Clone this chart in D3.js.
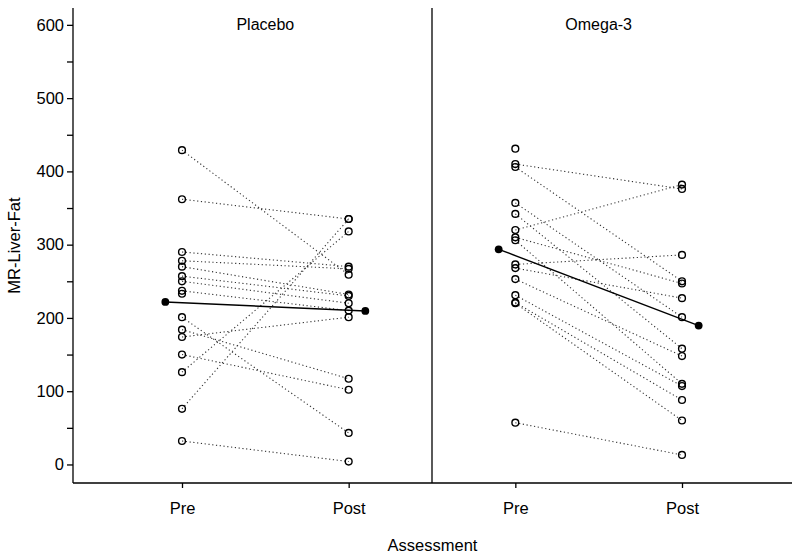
<!DOCTYPE html>
<html><head><meta charset="utf-8">
<script src="https://cdn.jsdelivr.net/npm/d3@7"></script>
<style>body{margin:0;background:#fff}svg{display:block}text{font-family:"Liberation Sans",Arial,Helvetica,sans-serif;fill:#000}</style>
</head><body><svg id="c" width="800" height="560"></svg>
<script>
// ---- data ----
const groups = ["Placebo", "Omega-3"];
const timepoints = ["Pre", "Post"];
// Placebo subjects (pre, post); null = missing
const placeboPre  = [429, 362, 290, 278, 270, 257, 250, 237, 233, 201, 184, 174, 150, 126, 76, 32];
const placeboPost = [259, 335, 270, 267, 232, 230, 220, 210, null, 43, 117, 201, 102, 318, 335, 4];
// Omega-3 subjects
const omegaPre  = [431, 410, 406, 357, 342, 320, 310, 306, 273, 268, 253, 231, 221, 220, 57];
const omegaPost = [null, 376, 250, 201, 158, 382, 247, 110, 286, 227, 148, 107, 88, 60, 13];
const yTicks = [0, 100, 200, 300, 400, 500, 600];
const yMinorTicks = [50, 150, 250, 350, 450, 550];
const yLabel = "MR-Liver-Fat";
const xLabel = "Assessment";

const svg = d3.select("#c");
const L = 73, R = 792, T = 8, B = 483;
const x = d3.scaleLinear().domain([0.346, 4.66]).range([L, R]);
const y = d3.scaleLinear().domain([-25.3, 623]).range([B, T]);

const panels = [
  {name: groups[0], pre: placeboPre, post: placeboPost, base: 1},
  {name: groups[1], pre: omegaPre, post: omegaPost, base: 3}
];

const g = svg.append("g");
panels.forEach(p => {
  const xp = x(p.base), xq = x(p.base + 1);
  p.pre.forEach((v, i) => {
    const w = p.post[i];
    if (v != null && w != null) {
      g.append("line").attr("x1", xp).attr("y1", y(v)).attr("x2", xq).attr("y2", y(w))
        .attr("stroke", "#333").attr("stroke-width", 1.1).attr("stroke-dasharray", "1.2,2.6");
    }
  });
  const mPre = d3.mean(p.pre.filter(v => v != null));
  const mPost = d3.mean(p.post.filter(v => v != null));
  g.append("line").attr("x1", x(p.base - 0.1)).attr("y1", y(mPre))
    .attr("x2", x(p.base + 1.1)).attr("y2", y(mPost))
    .attr("stroke", "#000").attr("stroke-width", 1.4);
  p.pre.filter(v => v != null).forEach(v => {
    g.append("circle").attr("cx", xp).attr("cy", y(v)).attr("r", 3.4)
      .attr("fill", "none").attr("stroke", "#000").attr("stroke-width", 1.4);
  });
  p.post.filter(v => v != null).forEach(v => {
    g.append("circle").attr("cx", xq).attr("cy", y(v)).attr("r", 3.4)
      .attr("fill", "none").attr("stroke", "#000").attr("stroke-width", 1.4);
  });
  [[p.base - 0.1, mPre], [p.base + 1.1, mPost]].forEach(d => {
    g.append("circle").attr("cx", x(d[0])).attr("cy", y(d[1])).attr("r", 3.9).attr("fill", "#000");
  });
  svg.append("text").attr("x", x(p.base + 0.5)).attr("y", 30).attr("text-anchor", "middle")
    .attr("font-size", 16).text(p.name);
});

const yAxis = svg.append("g").attr("transform", `translate(${L},0)`)
  .call(d3.axisLeft(y).tickValues(yTicks).tickSize(6).tickPadding(3).tickFormat(d3.format("d")));
svg.append("g").attr("transform", `translate(${L},0)`)
  .call(d3.axisLeft(y).tickValues(yMinorTicks).tickSize(6).tickFormat(""))
  .select(".domain").remove();
yAxis.select(".domain").attr("d", `M0,${T}V${B}`);
yAxis.selectAll("text").attr("font-size", 16.5).attr("font-family", "Liberation Sans, Arial, sans-serif");

const xTickVals = [1, 2, 3, 4];
const xAxis = svg.append("g").attr("transform", `translate(0,${B})`)
  .call(d3.axisBottom(x).tickValues(xTickVals).tickSize(5).tickPadding(14)
    .tickFormat(d => timepoints[(d - 1) % 2]));
xAxis.select(".domain").attr("d", `M${L},0H${R}`);
xAxis.selectAll("text").attr("font-size", 16.5).attr("font-family", "Liberation Sans, Arial, sans-serif");
svg.selectAll(".tick line, .domain").attr("stroke", "#000").attr("stroke-width", 1.3);

svg.append("line").attr("x1", x(2.5)).attr("x2", x(2.5)).attr("y1", T).attr("y2", B)
  .attr("stroke", "#000").attr("stroke-width", 1.3);

svg.append("text").attr("x", (L + R) / 2).attr("y", 551).attr("text-anchor", "middle")
  .attr("font-size", 16.5).text(xLabel);
svg.append("text").attr("transform", `translate(20,${(T + B) / 2}) rotate(-90)`)
  .attr("text-anchor", "middle").attr("font-size", 16.5).text(yLabel);
</script></body></html>
